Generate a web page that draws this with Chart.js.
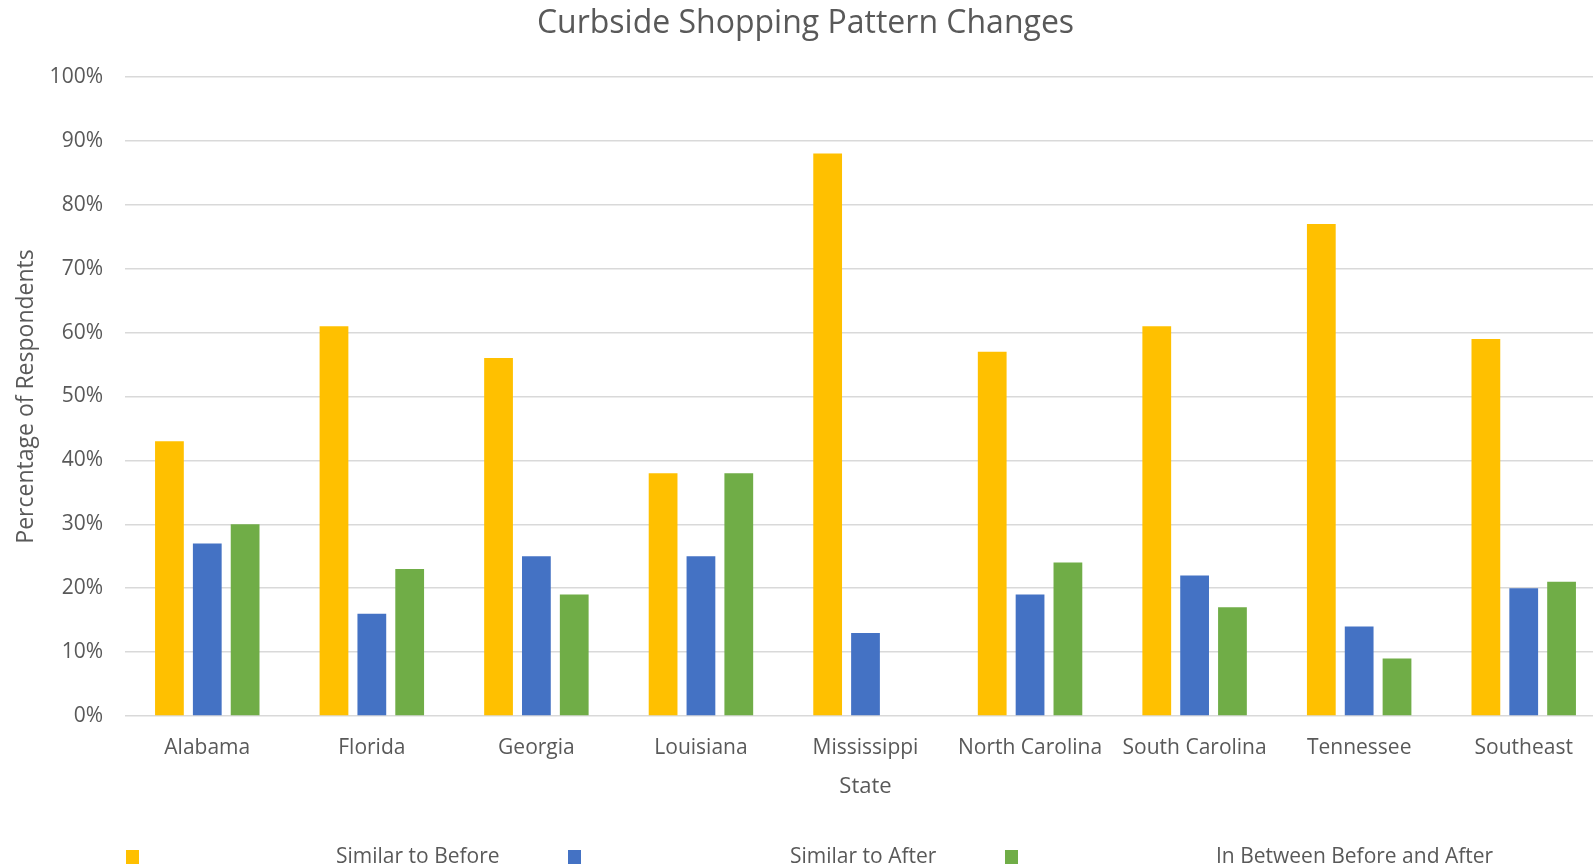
<!DOCTYPE html>
<html>
<head>
<meta charset="utf-8">
<script src="https://cdn.jsdelivr.net/npm/chart.js@4.4.1/dist/chart.umd.min.js"></script>
<style>
  html, body { margin: 0; padding: 0; background: #ffffff; overflow: hidden; width: 1593px; height: 867px; }
  #wrap { position: absolute; left: 0; top: 0; width: 1612px; height: 867px; }
  canvas { display: block; }
</style>
</head>
<body>
<div id="wrap"><canvas id="c" width="1612" height="867"></canvas></div>
<script>
const states = ["Alabama", "Florida", "Georgia", "Louisiana", "Mississippi", "North Carolina", "South Carolina", "Tennessee", "Southeast"];
const similarToBefore = [43, 61, 56, 38, 88, 57, 61, 77, 59];
const similarToAfter = [27, 16, 25, 25, 13, 19, 22, 14, 20];
const inBetween = [30, 23, 19, 38, 0, 24, 17, 9, 21];
const seriesNames = ["Similar to Before", "Similar to After", "In Between Before and After"];
const seriesColors = ["#FFC000", "#4472C4", "#70AD47"];
const yTickValues = [0, 10, 20, 30, 40, 50, 60, 70, 80, 90, 100];

const FONT = "'Open Sans', 'Segoe UI', sans-serif";
const TEXT = "#595959";

const excelLegend = {
  id: "excelLegend",
  afterDraw(chart) {
    const ctx = chart.ctx;
    const items = [
      { box: 126, text: 336 },
      { box: 568, text: 790 },
      { box: 1005, text: 1216 }
    ];
    const cy = 857;
    ctx.save();
    ctx.font = "21px " + FONT;
    ctx.textBaseline = "middle";
    chart.data.datasets.forEach((ds, i) => {
      const it = items[i];
      ctx.fillStyle = ds.backgroundColor;
      ctx.fillRect(it.box, cy - 7, 13, 14);
      ctx.fillStyle = TEXT;
      ctx.textAlign = "left";
      ctx.fillText(ds.label, it.text, cy);
    });
    ctx.restore();
  }
};

const datasets = [similarToBefore, similarToAfter, inBetween].map((vals, i) => ({
  label: seriesNames[i],
  data: vals,
  backgroundColor: seriesColors[i],
  borderWidth: 0,
  categoryPercentage: 0.69,
  barPercentage: 0.76
}));

const LAYOUT = { left: 5, right: 6, top: 0, bottom: 67 };

new Chart(document.getElementById("c"), {
  type: "bar",
  data: { labels: states, datasets },
  options: {
    responsive: false,
    devicePixelRatio: 1,
    animation: false,
    layout: { padding: LAYOUT },
    plugins: {
      legend: { display: false },
      tooltip: { enabled: false },
      title: {
        display: true,
        text: "Curbside Shopping Pattern Changes",
        color: TEXT,
        font: { family: FONT, size: 32, weight: "normal" },
        padding: { top: 4.5, bottom: 34 }
      }
    },
    scales: {
      x: {
        grid: { display: false, drawTicks: false },
        border: { display: false },
        afterFit(axis) { axis.height = 84; },
        ticks: { color: TEXT, font: { family: FONT, size: 21 }, padding: 19, maxRotation: 0, autoSkip: false },
        title: { display: true, text: "State", color: TEXT, font: { family: FONT, size: 22 }, padding: { top: 0, bottom: 0 } }
      },
      y: {
        min: 0,
        max: 100,
        afterBuildTicks(axis) { axis.ticks = yTickValues.map(v => ({ value: v })); },
        afterFit(axis) { axis.width = 120; },
        grid: { color: "#D9D9D9", lineWidth: 1.5, drawTicks: false },
        border: { display: false },
        ticks: { color: TEXT, font: { family: FONT, size: 21 }, padding: 22, callback: v => v + "%" },
        title: { display: true, text: "Percentage of Respondents", color: TEXT, font: { family: FONT, size: 23 }, padding: { top: 8, bottom: 0 } }
      }
    }
  },
  plugins: [excelLegend]
});
</script>
</body>
</html>
